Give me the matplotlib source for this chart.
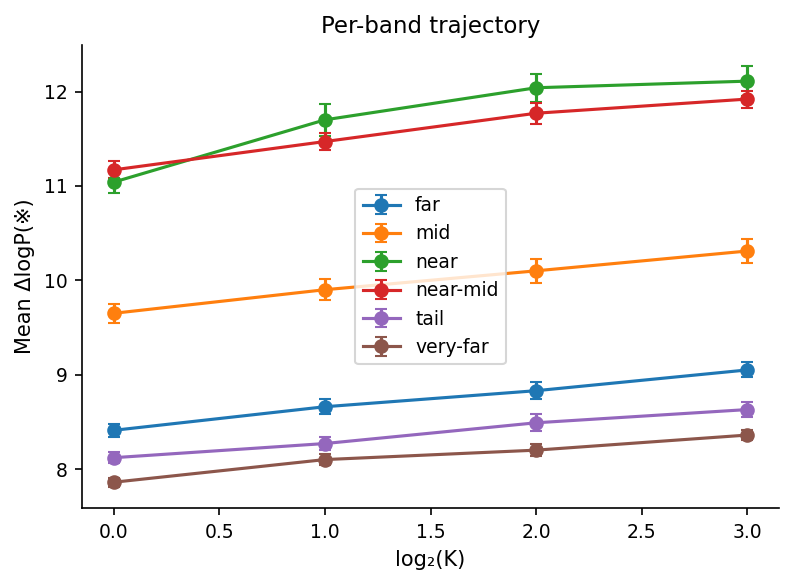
import matplotlib
matplotlib.use("Agg")
import matplotlib.pyplot as plt

plt.rcParams["font.family"] = ["DejaVu Sans", "Noto Sans CJK JP"]
plt.rcParams["xtick.labelsize"] = 9
plt.rcParams["ytick.labelsize"] = 9
plt.rcParams["axes.labelsize"] = 10
plt.rcParams["axes.titlesize"] = 11
plt.rcParams["legend.fontsize"] = 9

log2_k = [0, 1, 2, 3]
bands = ["far", "mid", "near", "near-mid", "tail", "very-far"]

far = [8.41, 8.66, 8.83, 9.05]
far_err = [0.07, 0.08, 0.09, 0.08]
mid = [9.65, 9.90, 10.10, 10.31]
mid_err = [0.10, 0.11, 0.13, 0.13]
near = [11.04, 11.70, 12.04, 12.11]
near_err = [0.12, 0.17, 0.15, 0.16]
near_mid = [11.17, 11.47, 11.77, 11.92]
near_mid_err = [0.09, 0.09, 0.11, 0.09]
tail = [8.12, 8.27, 8.49, 8.63]
tail_err = [0.06, 0.07, 0.09, 0.08]
very_far = [7.86, 8.10, 8.20, 8.36]
very_far_err = [0.05, 0.06, 0.06, 0.05]

series = [far, mid, near, near_mid, tail, very_far]
errors = [far_err, mid_err, near_err, near_mid_err, tail_err, very_far_err]

dpi = 150
fig, ax = plt.subplots(figsize=(794 / dpi, 584 / dpi), dpi=dpi)
for name, y, e in zip(bands, series, errors):
    ax.errorbar(log2_k, y, yerr=e, fmt="o-", capsize=3, label=name)

ax.set_xlabel("log₂(K)")
ax.set_ylabel("Mean ΔlogP(※)")
ax.set_title("Per-band trajectory")
ax.spines["top"].set_visible(False)
ax.spines["right"].set_visible(False)
ax.legend(loc="center")

fig.subplots_adjust(left=82 / 794, right=779 / 794, top=1 - 45 / 584, bottom=1 - 508 / 584)
plt.savefig("out.png", dpi=dpi)
